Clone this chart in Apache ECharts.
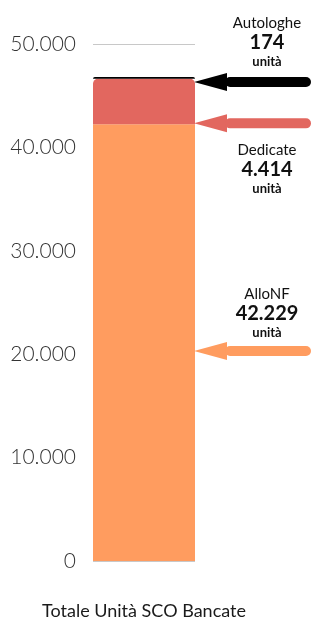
<!DOCTYPE html>
<html>
<head>
<meta charset="utf-8">
<script src="https://cdn.jsdelivr.net/npm/echarts@6/dist/echarts.min.js"></script>
<style>
  html, body { margin: 0; padding: 0; background: #fff; }
  #chart { width: 311px; height: 621px; }
</style>
</head>
<body>
<div id="chart"></div>
<script>
const categories = ['Totale Unità SCO Bancate'];
const seriesNames = ['AlloNF', 'Dedicate', 'Autologhe'];
const alloNF = [42229];
const dedicate = [4414];
const autologhe = [174];
const yTicks = [0, 10000, 20000, 30000, 40000, 50000];

const colors = { AlloNF: '#ff9c5f', Dedicate: '#e2675f', Autologhe: '#000000' };
const fmt = (v) => String(v).replace(/\B(?=(\d{3})+(?!\d))/g, '.');

const chart = echarts.init(document.getElementById('chart'));

const option = {
  animation: false,
  grid: { left: 93, right: 116, top: 44, bottom: 60 },
  xAxis: {
    type: 'category',
    data: categories,
    axisLine: { show: false },
    axisTick: { show: false },
    axisLabel: {
      margin: 41,
      fontFamily: 'Lato',
      fontSize: 18,
      color: '#1a1a1a',
    },
  },
  yAxis: {
    type: 'value',
    min: yTicks[0],
    max: yTicks[yTicks.length - 1],
    interval: 10000,
    axisLine: { show: false },
    axisTick: { show: false },
    splitLine: { lineStyle: { color: '#c8c8c8', width: 1 } },
    axisLabel: {
      margin: 17,
      fontFamily: 'Lato',
      fontWeight: 300,
      fontSize: 21,
      color: '#333',
      formatter: (v) => fmt(v),
    },
  },
  series: [
    {
      name: seriesNames[0],
      type: 'bar',
      stack: 'tot',
      barWidth: '100%',
      itemStyle: { color: colors.AlloNF },
      data: alloNF,
    },
    {
      name: seriesNames[1],
      type: 'bar',
      stack: 'tot',
      barWidth: '100%',
      itemStyle: { color: colors.Dedicate, borderRadius: [5, 5, 0, 0] },
      data: dedicate,
    },
    {
      name: seriesNames[2],
      type: 'bar',
      stack: 'tot',
      barWidth: '100%',
      itemStyle: { color: colors.Autologhe, borderRadius: [5, 5, 0, 0] },
      data: autologhe,
    },
  ],
};

chart.setOption(option);

// arrows and side labels
function arrow(y, color) {
  const tipX = 194;
  const headX = 227;
  const endX = 306;
  return [
    {
      type: 'polygon',
      shape: { points: [[tipX, y], [headX, y - 9], [headX, y + 9]] },
      style: { fill: color },
    },
    {
      type: 'rect',
      shape: { x: headX - 2, y: y - 5, width: endX - headX + 7, height: 10, r: 5 },
      style: { fill: color },
    },
  ];
}

function sideLabel(y, name, value) {
  const cx = 267;
  return [
    {
      type: 'text',
      x: cx, y: y,
      style: { text: name, fontFamily: 'Lato', fontSize: 15, fill: '#111', align: 'center', verticalAlign: 'middle' },
    },
    {
      type: 'text',
      x: cx, y: y + 20,
      style: { text: fmt(value), fontFamily: 'Lato', fontWeight: 'bold', fontSize: 20, fill: '#111', align: 'center', verticalAlign: 'middle' },
    },
    {
      type: 'text',
      x: cx, y: y + 39,
      style: { text: 'unità', fontFamily: 'Lato', fontWeight: 'bold', fontSize: 13, fill: '#111', align: 'center', verticalAlign: 'middle' },
    },
  ];
}

const yBlack = chart.convertToPixel({ yAxisIndex: 0 }, alloNF[0] + dedicate[0] + autologhe[0]) + 5;
const yRed = chart.convertToPixel({ yAxisIndex: 0 }, alloNF[0]) - 1;

chart.setOption({
  graphic: [].concat(
    arrow(yBlack, colors.Autologhe),
    arrow(yRed, colors.Dedicate),
    arrow(351, colors.AlloNF),
    sideLabel(23, seriesNames[2], autologhe[0]),
    sideLabel(150, seriesNames[1], dedicate[0]),
    sideLabel(294, seriesNames[0], alloNF[0])
  ),
});
</script>
</body>
</html>
